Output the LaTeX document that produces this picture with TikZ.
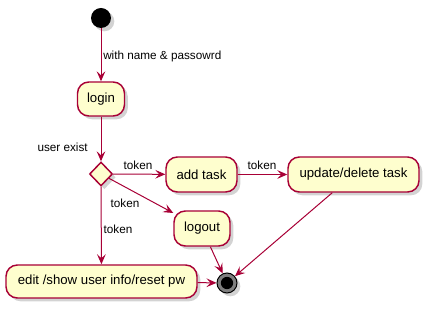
\documentclass[tikz,border=0pt]{standalone}
\usepackage{fontspec}
\setmainfont{Liberation Sans}
\usetikzlibrary{arrows.meta,shapes.geometric,shadows}
\definecolor{umlline}{HTML}{A80036}
\definecolor{umlfill}{HTML}{FEFECE}
\definecolor{umlend}{HTML}{7F7F7F}
\tikzset{
  shade/.style={drop shadow={opacity=0.35,shadow xshift=2.5pt,shadow yshift=-2.5pt}},
  act/.style={rectangle,rounded corners=8.5pt,draw=umlline,fill=umlfill,line width=1.1pt,
    inner sep=0pt,font=\fontsize{9.9}{11}\selectfont,shade},
  choice/.style={diamond,draw=umlline,fill=umlfill,line width=1.1pt,inner sep=0pt,
    minimum width=17.25pt,minimum height=18pt,shade},
  flow/.style={draw=umlline,line width=0.75pt,-{Stealth[length=7.5pt,width=6.5pt,inset=3pt]}},
  lbl/.style={font=\fontsize{8.8}{10}\selectfont,inner sep=0pt}
}
\begin{document}
\begin{tikzpicture}[x=0.75pt,y=-0.75pt]
\useasboundingbox (0,0) rectangle (429,309);

% start and end points
\node[circle,fill=black,minimum size=15pt,inner sep=0pt,shade] (start) at (101,18) {};
\node[circle,draw=black,fill=umlend,line width=0.75pt,minimum size=15pt,inner sep=0pt,shade] (stop) at (227,283) {};
\fill[black] (stop.center) circle (4.6pt);

% activities
\node[act,minimum width=35.25pt,minimum height=25.5pt] (login) at (101,99) {login};
\node[choice] (check) at (101,174) {};
\node[act,minimum width=53.25pt,minimum height=26.25pt] (add) at (201.5,174.5) {add task};
\node[act,minimum width=98.25pt,minimum height=26.25pt] (upd) at (353.5,174.5) {update/delete task};
\node[act,minimum width=42pt,minimum height=26.25pt] (logout) at (202,228.5) {logout};
\node[act,minimum width=143.25pt,minimum height=24.75pt] (edit) at (101.5,281.5) {edit /show user info/reset pw};

% flows
\draw[flow] (start) -- (login);
\draw[flow] (login) -- (check);
\draw[flow] (check) -- (add);
\draw[flow] (add) -- (upd);
\draw[flow] (check) -- (logout);
\draw[flow] (check) -- (edit);
\draw[flow] (logout) -- (stop);
\draw[flow] (upd) -- (stop);
\draw[flow] (edit) -- (stop);

% flow labels
\node[lbl,anchor=west] (l1) at (103,56) {with name \& passowrd};
\node[lbl,anchor=east] (l2) at (88,147) {user exist};
\node[lbl] (l3) at (138,165) {token};
\node[lbl] (l4) at (262,165) {token};
\node[lbl] (l5) at (125,203) {token};
\node[lbl] (l6) at (118,229) {token};
\end{tikzpicture}
\end{document}
